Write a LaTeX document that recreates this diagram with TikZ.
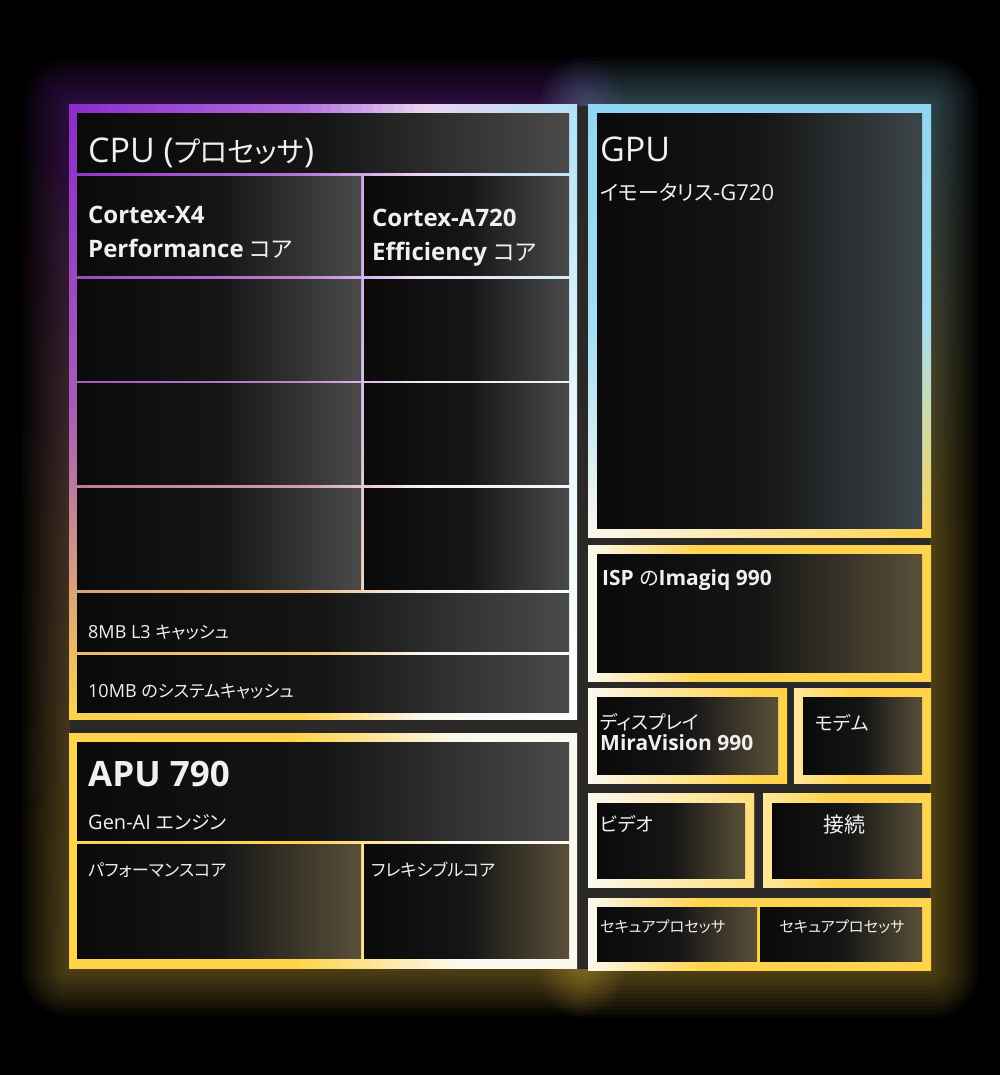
\documentclass[tikz,border=0pt]{standalone}
\usepackage{fontspec}
\setmainfont{Open Sans}
\newfontfamily\jpf[RawFeature=+palt,Scale=0.95]{Noto Sans CJK JP}
\newcommand\jpt[1]{{\jpf\mdseries #1}}
\definecolor{cpurple}{HTML}{8A2BCB}
\definecolor{cmauve}{HTML}{A85CB8}
\definecolor{clav}{HTML}{B06FDD}
\definecolor{clavm}{HTML}{C08CCB}
\definecolor{cgold}{HTML}{FFD44C}
\definecolor{cblue}{HTML}{8FD6F3}
\definecolor{cpinkw}{HTML}{EAD2F0}
\definecolor{cwhite}{HTML}{FBF8F0}
\definecolor{txt}{HTML}{F0F0F0}
\definecolor{cgap}{HTML}{2A2927}
\definecolor{cellL}{HTML}{0A0A0A}
\definecolor{cellM}{HTML}{151515}
\definecolor{cellR}{HTML}{4A4A4A}
\definecolor{cellRg}{HTML}{5A5039}
\definecolor{cellRb}{HTML}{3C4549}
% vertical strips with bilinear colour interpolation
\newcommand\strips[5]{%
  \foreach \si in {1,...,#5}{%
    \pgfmathsetmacro\sxa{#1+(#2-#1)*(\si-1)/#5}%
    \pgfmathsetmacro\sxb{min(#1+(#2-#1)*\si/#5+0.8,#2)}%
    \pgfmathtruncatemacro\spp{round(100*(\si-0.5)/#5)}%
    \shade[top color=ctr!\spp!ctl, bottom color=cbr!\spp!cbl, middle color=cmr!\spp!cml] (\sxa,#3) rectangle (\sxb,#4);
  }}
% soft glow: stacked translucent enlarged rectangles
\newcommand\glowbox[7]{%
  \foreach \gk in {1,...,12}{%
    \pgfmathsetmacro\gd{4*\gk}%
    \shade[top color=#5, bottom color=#6, middle color=#7, fill opacity=0.03, rounded corners=\gd pt] (#1-\gd,#2-\gd) rectangle (#3+\gd,#4+\gd);
  }}
\newcommand\hgrad[7]{%
  \shade[left color=#2, right color=#2] (#4-1,#6) rectangle (#5,#7);
  \shade[left color=#1, right color=#2] (#3,#6) rectangle (#4,#7);}
\tikzset{
  cell/.style={left color=cellL, right color=cellR, middle color=cellM},
  gcell/.style={left color=cellL, right color=cellRg, middle color=cellM},
  bcell/.style={left color=cellL, right color=cellRb, middle color=cellM},
  lbl/.style={anchor=base west, text=txt, inner sep=0pt},
  clbl/.style={anchor=base, text=txt, inner sep=0pt},
  f16/.style={font=\fontsize{16}{19}\selectfont},
  f18/.style={font=\fontsize{18}{22}\selectfont},
  f20/.style={font=\fontsize{20}{24}\selectfont},
  f22/.style={font=\fontsize{22}{26}\selectfont},
  f34/.style={font=\fontsize{34}{40}\selectfont},
  b21/.style={font=\bfseries\fontsize{21}{25}\selectfont},
  b24/.style={font=\bfseries\fontsize{24}{28}\selectfont},
  b35/.style={font=\bfseries\fontsize{35}{40}\selectfont},
}
\begin{document}
\begin{tikzpicture}[x=1pt,y=-1pt]
\useasboundingbox (0,0) rectangle (1000,1075);
\fill[black] (0,0) rectangle (1000,1075);
% glows
\glowbox{69}{105}{577}{968}{cpurple}{cgold}{cgold!65!cpurple}
\glowbox{588}{105}{931}{970}{cblue}{cgold}{cgold}
% dark panel showing in the gaps between the blocks
\fill[cgap] (70,106) rectangle (930,969);
% ---------- CPU border ----------
\colorlet{ctl}{cpurple}\colorlet{cml}{cmauve}\colorlet{cbl}{cgold}
\colorlet{ctr}{clav}\colorlet{cmr}{clavm}\colorlet{cbr}{cgold}
\strips{69}{301}{105}{719}{24}
\colorlet{ctl}{clav}\colorlet{cml}{clavm}\colorlet{cbl}{cgold}
\colorlet{ctr}{cpinkw}\colorlet{cmr}{white!92!cpurple}\colorlet{cbr}{cwhite}
\strips{300}{425}{105}{719}{12}
\colorlet{ctl}{cpinkw}\colorlet{cml}{white!92!cpurple}\colorlet{cbl}{cwhite}
\colorlet{ctr}{cblue!70!white}\colorlet{cmr}{cblue!20!white}\colorlet{cbr}{white}
\strips{424}{577}{105}{719}{15}
% CPU cells
\shade[cell] (77,114) rectangle (569,173);
\shade[cell] (77,177) rectangle (361,275);
\shade[cell] (364,177) rectangle (569,275);
\shade[cell] (77,279) rectangle (361,380);
\shade[cell] (364,279) rectangle (569,380);
\shade[cell] (77,383) rectangle (361,484);
\shade[cell] (364,383) rectangle (569,484);
\shade[cell] (77,488) rectangle (361,589);
\shade[cell] (364,488) rectangle (569,589);
\shade[cell] (77,593) rectangle (569,651);
\shade[cell] (77,655) rectangle (569,712);
% ---------- APU ----------
\colorlet{ctl}{cgold}\colorlet{cml}{cgold}\colorlet{cbl}{cgold}
\colorlet{ctr}{cgold}\colorlet{cmr}{cgold}\colorlet{cbr}{cgold}
\strips{69}{301}{733}{968}{1}
\colorlet{ctr}{cwhite}\colorlet{cmr}{cwhite}\colorlet{cbr}{cwhite}
\strips{300}{460}{733}{968}{16}
\colorlet{ctl}{cwhite}\colorlet{cml}{cwhite}\colorlet{cbl}{cwhite}
\strips{459}{577}{733}{968}{1}
\shade[cell] (77,742) rectangle (569,840);
\shade[gcell] (77,844) rectangle (361,958);
\shade[gcell] (364,844) rectangle (569,958);
% ---------- GPU ----------
\colorlet{ctl}{cblue}\colorlet{cml}{cblue!85!white}\colorlet{cbl}{cwhite}
\colorlet{ctr}{cblue}\colorlet{cmr}{cblue!80!white}\colorlet{cbr}{cgold}
\strips{588}{931}{105}{537}{30}
\shade[bcell] (597,114) rectangle (922,528);
% ---------- right column ----------
\hgrad{cwhite}{cgold}{588}{700}{931}{545}{681}
\shade[gcell] (597,554) rectangle (922,672);
\hgrad{cwhite}{cgold}{588}{750}{787}{688}{783}
\shade[gcell] (597,697) rectangle (778,774);
\hgrad{cgold!55!white}{cgold}{794}{850}{931}{688}{783}
\shade[gcell] (803,697) rectangle (922,774);
\hgrad{cwhite}{cgold!75!white}{588}{754}{754}{793}{887}
\shade[gcell] (597,803) rectangle (745,878);
\hgrad{cgold!55!white}{cgold}{763}{830}{931}{793}{887}
\shade[gcell] (772,803) rectangle (922,878);
\hgrad{cwhite}{cgold}{588}{700}{931}{898}{970}
\shade[gcell] (597,907) rectangle (757,961);
\shade[gcell] (760,907) rectangle (922,961);
% ---------- texts ----------
\node[lbl, f34] (cpu) at (88,163) {CPU ({\jpf\fontsize{30}{36}\selectfont プロセッサ})};
\node[lbl, b24] (x4a) at (88,224) {Cortex-X4};
\node[lbl, b24] (x4b) at (88,258) {Performance \jpt{コア}};
\node[lbl, b24] (a7a) at (372,226) {Cortex-A720};
\node[lbl, b24] (a7b) at (372,260) {Efficiency \jpt{コア}};
\node[lbl, f18] (l3) at (88,638) {8MB L3 \jpt{キャッシュ}};
\node[lbl, f18] (sc) at (88,697) {10MB \jpt{のシステムキャッシュ}};
\node[lbl, b35] (apu) at (88,786) {APU 790};
\node[lbl, f20] (gen) at (88,829) {Gen-AI \jpt{エンジン}};
\node[lbl, f18] (perf) at (88,876) {\jpt{パフォーマンスコア}};
\node[lbl, f18] (flex) at (371,876) {\jpt{フレキシブルコア}};
\node[lbl, f34] (gpu) at (600,162) {GPU};
\node[lbl, f22] (imm) at (600,201) {\jpt{イモータリス}-G720};
\node[lbl, b21] (isp) at (602,585) {ISP \jpt{の}Imagiq 990};
\node[lbl, f20] (disp1) at (600,729) {\jpt{ディスプレイ}};
\node[lbl, b21] (disp2) at (600,750) {MiraVision 990};
\node[lbl, f20] (modem) at (815,730) {\jpt{モデム}};
\node[lbl, f20] (video) at (600,831) {\jpt{ビデオ}};
\node[clbl, f22] (conn) at (844,832) {\jpt{接続}};
\node[lbl, f16] (sec1) at (600,932) {\jpt{セキュアプロセッサ}};
\node[clbl, f16] (sec2) at (842,932) {\jpt{セキュアプロセッサ}};
\end{tikzpicture}
\end{document}
